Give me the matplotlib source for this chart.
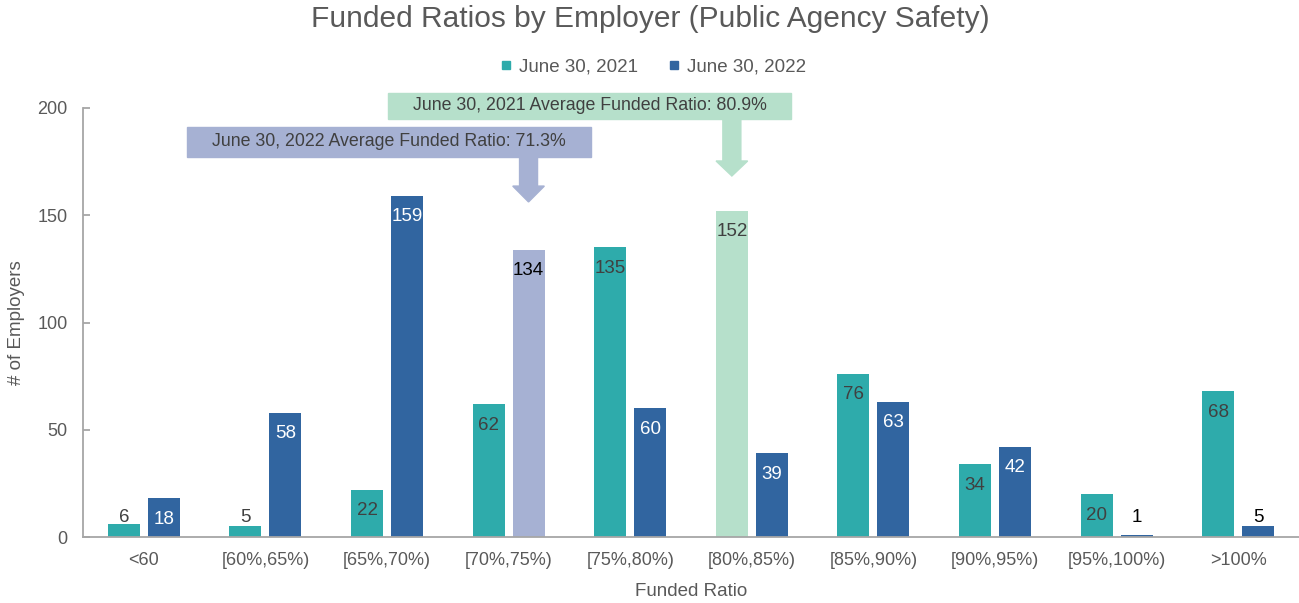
import numpy as np
import matplotlib.pyplot as plt
from matplotlib.patches import Rectangle, Polygon
from matplotlib.lines import Line2D

# data
categories = ['<60', '[60%,65%)', '[65%,70%)', '[70%,75%)', '[75%,80%)',
              '[80%,85%)', '[85%,90%)', '[90%,95%)', '[95%,100%)', '>100%']
jun2021 = [6, 5, 22, 62, 135, 152, 76, 34, 20, 68]
jun2022 = [18, 58, 159, 134, 60, 39, 63, 42, 1, 5]
bin_edges = [60, 65, 70, 75, 80, 85, 90, 95, 100]
avg2021 = 80.9
avg2022 = 71.3

teal = '#2EABAB'
blue = '#3165A0'
teal_hi = '#B6E0CB'
blue_hi = '#A6B1D3'
grey_txt = '#595959'
dark_txt = '#404040'

plt.rcParams['font.family'] = ['Liberation Sans', 'DejaVu Sans']

fig = plt.figure(figsize=(12.99, 6.03), dpi=100)
ax = fig.add_axes([83 / 1299, 1 - 537 / 603, 1 - 83 / 1299, (537 - 108) / 603])

x = np.arange(len(categories))
w = 0.263
off = 0.164

# bins holding the averages get the light colour
hi21 = int(np.searchsorted(bin_edges, avg2021, side='right'))
hi22 = int(np.searchsorted(bin_edges, avg2022, side='right'))

c21 = [teal_hi if i == hi21 else teal for i in x]
c22 = [blue_hi if i == hi22 else blue for i in x]

ax.bar(x - off, jun2021, w, color=c21)
ax.bar(x + off, jun2022, w, color=c22)

# data labels
for xs, vals, normal_col, hi in [(x - off, jun2021, dark_txt, hi21),
                                 (x + off, jun2022, 'white', hi22)]:
    for i, (xi, v) in enumerate(zip(xs, vals)):
        if v < 10:
            ax.text(xi, 9, str(v), ha='center', va='center', fontsize=13.5,
                    color='black' if normal_col == 'white' else dark_txt)
        else:
            col = normal_col
            if i == hi:
                col = 'black' if normal_col == 'white' else dark_txt
            ax.annotate(str(v), (xi, v), xytext=(0, -21), textcoords='offset pixels',
                        ha='center', va='center', fontsize=13.5, color=col)

ax.set_xlim(-0.5, len(categories) - 0.5)
ax.set_ylim(0, 200)
ax.set_yticks([0, 50, 100, 150, 200])
ax.set_xticks(x)
ax.set_xticklabels(categories)
ax.tick_params(axis='x', length=0, pad=11, labelsize=13, labelcolor=grey_txt)
ax.tick_params(axis='y', direction='in', length=5, width=1.3, color='#A6A6A6',
               pad=11, labelsize=13, labelcolor=grey_txt)
for s in ['top', 'right']:
    ax.spines[s].set_visible(False)
for s in ['left', 'bottom']:
    ax.spines[s].set_color('#A6A6A6')
    ax.spines[s].set_linewidth(1.3)

ax.set_xlabel('Funded Ratio', fontsize=13.5, color=grey_txt, labelpad=10)
ax.set_ylabel('# of Employers', fontsize=13.5, color=grey_txt)
ax.yaxis.set_label_coords(-0.048, 0.5)

fig.text(0.501, 1 - 19 / 603, 'Funded Ratios by Employer (Public Agency Safety)',
         ha='center', va='center', fontsize=21.5, color=grey_txt)

handles = [Line2D([], [], marker='s', linestyle='none', color=teal, markersize=6),
           Line2D([], [], marker='s', linestyle='none', color=blue, markersize=6)]
fig.legend(handles, ['June 30, 2021', 'June 30, 2022'], loc='center',
           bbox_to_anchor=(0.503, 1 - 67 / 603), ncol=2, frameon=False,
           fontsize=13.5, labelcolor=grey_txt, handlelength=0.6,
           handletextpad=0.4, columnspacing=1.6)


def callout(text, box_x, box_y, arrow_x, head_y, tip_y, color):
    x0, x1 = box_x
    y0, y1 = box_y
    ax.add_patch(Rectangle((x0, y0), x1 - x0, y1 - y0, color=color,
                           clip_on=False, zorder=3))
    sw = 0.074
    hw = 0.13
    pts = [(arrow_x - sw, y0), (arrow_x + sw, y0), (arrow_x + sw, head_y),
           (arrow_x + hw, head_y), (arrow_x, tip_y), (arrow_x - hw, head_y),
           (arrow_x - sw, head_y)]
    ax.add_patch(Polygon(pts, closed=True, color=color, clip_on=False, zorder=3))
    ax.text((x0 + x1) / 2, (y0 + y1) / 2, text, ha='center', va='center',
            fontsize=12.8, color=dark_txt, zorder=4, clip_on=False)


callout('June 30, 2021 Average Funded Ratio: %.1f%%' % avg2021,
        (2.006, 5.326), (194.9, 207.0), hi21 - off, 175.3, 168.3, teal_hi)
callout('June 30, 2022 Average Funded Ratio: %.1f%%' % avg2022,
        (0.355, 3.68), (177.2, 191.1), hi22 + off, 163.6, 156.2, blue_hi)

fig.savefig('out.png', dpi=100)
